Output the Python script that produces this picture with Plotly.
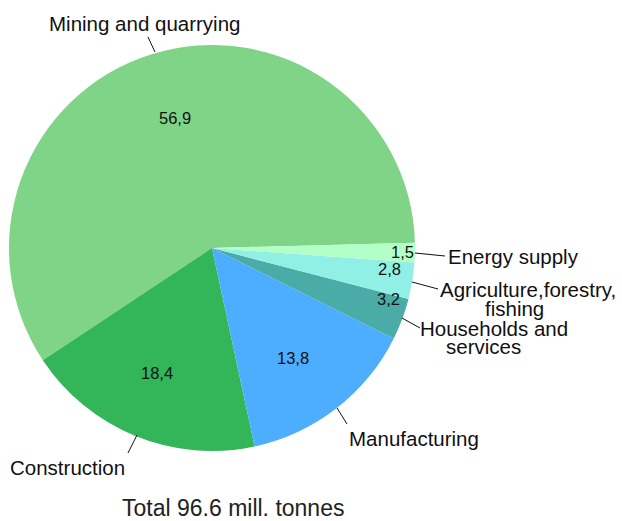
import math
import plotly.graph_objects as go

W, H = 622, 521

categories = ["Mining and quarrying", "Construction", "Manufacturing",
              "Households and services", "Agriculture,forestry, fishing", "Energy supply"]
values = [56.9, 18.4, 13.8, 3.2, 2.8, 1.5]
value_labels = ["56,9", "18,4", "13,8", "3,2", "2,8", "1,5"]
colors = ["#80D487", "#33B55A", "#4DADFF", "#4AABA7", "#90F0E6", "#B3FFC8"]
total_label = "Total 96.6 mill. tonnes"

# pie geometry in pixels
CX, CY, R = 212, 248, 203
START_OFFSET = 1.5  # degrees counterclockwise from 3 o'clock

def px(x):
    return x / W

def py(y):
    return 1 - y / H

tot = sum(values)
first_deg = values[0] / tot * 360

fig = go.Figure()
fig.add_trace(go.Pie(
    labels=categories, values=values, text=value_labels,
    marker=dict(colors=colors, line=dict(width=0)),
    sort=False, direction="counterclockwise", rotation=90 - first_deg - START_OFFSET,
    textinfo="none", hoverinfo="label+value", showlegend=False,
    domain=dict(x=[px(CX - R), px(CX + R)], y=[py(CY + R), py(CY - R)]),
))

# value labels placed along each slice's mid-angle (counterclockwise from 3 o'clock)
radial = [0.665, 0.67, 0.67, 0.905, 0.88, 0.94]
shift = [-1.5, -1.5, -1.5, 4.5, 2.5, 0]
cum = 0.0
annotations = []
for v, t, rf, sh in zip(values, value_labels, radial, shift):
    mid = (cum + v / 2) / tot * 360 + START_OFFSET + sh
    cum += v
    a = math.radians(mid)
    x = CX + rf * R * math.cos(a)
    y = CY - rf * R * math.sin(a)
    annotations.append(dict(x=px(x), y=py(y), xref="paper", yref="paper",
                            text=t, showarrow=False, xanchor="center", yanchor="middle",
                            font=dict(size=16.5, color="#111111", family="Liberation Sans")))

# category labels (one entry per text line) and leader lines (pixel layout)
label_lines = [
    ("Mining and quarrying", 144, 23, "center"),
    ("Construction", 67, 467, "center"),
    ("Manufacturing", 414, 438, "center"),
    ("Households and", 494, 328, "center"),
    ("services", 483, 346, "center"),
    ("Agriculture,forestry,", 528, 289, "center"),
    ("fishing", 514, 308, "center"),
    ("Energy supply", 446, 257, "left"),
]
leaders = [
    ((148, 37), (155, 52)),
    ((137, 435), (128, 453)),
    ((337, 408), (347, 424)),
    ((402, 318), (420, 328)),
    ((412, 282), (438, 289)),
    ((415, 253), (445, 256)),
]
for text, x, y, anchor in label_lines:
    annotations.append(dict(x=px(x), y=py(y), xref="paper", yref="paper",
                            text=text, showarrow=False, xanchor=anchor, yanchor="middle",
                            font=dict(size=20.5, color="#111111", family="Liberation Sans")))
shapes = []
for p0, p1 in leaders:
    shapes.append(dict(type="line", xref="paper", yref="paper",
                       x0=px(p0[0]), y0=py(p0[1]), x1=px(p1[0]), y1=py(p1[1]),
                       line=dict(color="#111111", width=1)))

annotations.append(dict(x=px(233), y=py(508), xref="paper", yref="paper",
                        text=total_label, showarrow=False, xanchor="center", yanchor="middle",
                        font=dict(size=23, color="#222222", family="Liberation Sans")))

fig.update_layout(width=W, height=H, margin=dict(l=0, r=0, t=0, b=0),
                  paper_bgcolor="white", plot_bgcolor="white",
                  annotations=annotations, shapes=shapes)
fig.write_html("out.html", config={"displayModeBar": False},
               post_script="document.body.style.margin='0px';")
